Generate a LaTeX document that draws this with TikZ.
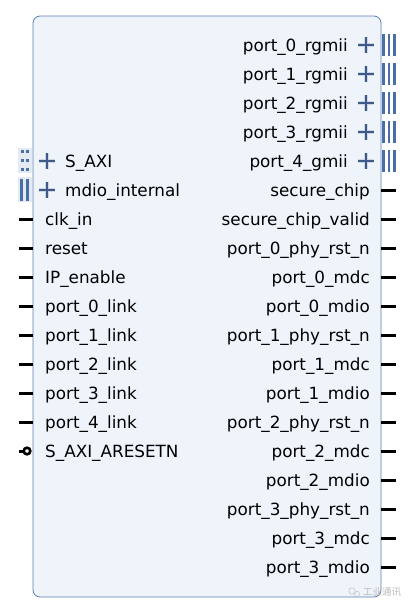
\documentclass[tikz,border=0pt]{standalone}
\usepackage{fontspec}
\setmainfont{DejaVu Sans}
\newfontfamily\cjk{Noto Sans CJK SC}
\usetikzlibrary{calc}

\definecolor{ipfill}{HTML}{EFF4FB}
\definecolor{ipedge}{HTML}{5A7DB5}
\definecolor{busblue}{HTML}{4A6FA5}
\definecolor{plusblue}{HTML}{3D5A8A}
\definecolor{busback}{HTML}{E3EAF4}

\tikzset{
  pinline/.style={line width=3pt, black},
  busbar/.style={busblue, line width=2.6pt},
  portlbl/.style={font=\fontsize{16.8}{18}\selectfont, inner sep=0pt},
  plusmark/.style={plusblue, line width=2.6pt},
  plushalo/.style={plusblue!25, line width=4.6pt}
}

\newcommand{\plusicon}[1]{%
  \draw[plushalo] ($(#1)+(-8,0)$) -- ($(#1)+(8,0)$);
  \draw[plushalo] ($(#1)+(0,-8)$) -- ($(#1)+(0,8)$);
  \draw[plusmark] ($(#1)+(-8,0)$) -- ($(#1)+(8,0)$);
  \draw[plusmark] ($(#1)+(0,-8)$) -- ($(#1)+(0,8)$);
}

\begin{document}
\begin{tikzpicture}[x=1pt,y=-1pt]
\useasboundingbox (0,0) rectangle (411,613);

% bloco IP
\draw[ipedge, fill=ipfill, rounded corners=7pt, line width=0.8pt] (33,16) rectangle (381,597);

% interfaces do lado esquerdo
\fill[busback] (18,148) rectangle (32,173);
\foreach \xx in {22,27.5}
  \foreach \yy in {151,160,169}
    \fill[busblue] (\xx-1.5,\yy-1.5) rectangle (\xx+1.5,\yy+1.5);
\node[portlbl, anchor=base west] (saxi) at (65,167) {S\_AXI};
\coordinate (saxiplus) at (47,161);
\plusicon{saxiplus}

\fill[busback] (18,177) rectangle (32,202);
\foreach \xx in {21.5,27.5}
  \draw[busbar] (\xx,179) -- (\xx,201);
\node[portlbl, anchor=base west] (mdio) at (65,196) {mdio\_internal};
\coordinate (mdioplus) at (47,190);
\plusicon{mdioplus}

% pinos simples do lado esquerdo
\foreach \lbl [count=\i from 0] in {clk\_in,reset,IP\_enable,port\_0\_link,port\_1\_link,port\_2\_link,port\_3\_link,port\_4\_link}
{
  \coordinate (lp\i) at (33,219+29*\i);
  \node[portlbl, anchor=base west] (ll\i) at (45,225+29*\i) {\lbl};
  \draw[pinline] (lp\i) -- ++(-14,0);
}

% reset ativo em baixo
\coordinate (arst) at (33,451);
\node[portlbl, anchor=base west] (arstlbl) at (45,457) {S\_AXI\_ARESETN};
\draw[pinline] (arst) ++(-10,0) -- ++(-4,0);
\draw[black, line width=2.6pt] ($(arst)+(-6,0)$) circle (3.3);

% barramentos do lado direito
\foreach \lbl [count=\i from 0] in {port\_0\_rgmii,port\_1\_rgmii,port\_2\_rgmii,port\_3\_rgmii,port\_4\_gmii}
{
  \coordinate (rb\i) at (381,45+29*\i);
  \node[portlbl, anchor=base east] (rbl\i) at (348,51+29*\i) {\lbl};
  \coordinate (rbp\i) at (366,45+29*\i);
  \plusicon{rbp\i}
  \foreach \dx in {2.5,8,13.5}
    \draw[busbar] ($(rb\i)+(\dx,-11)$) -- ($(rb\i)+(\dx,11)$);
}

% pinos simples do lado direito
\foreach \lbl [count=\i from 0] in {secure\_chip,secure\_chip\_valid,port\_0\_phy\_rst\_n,port\_0\_mdc,port\_0\_mdio,port\_1\_phy\_rst\_n,port\_1\_mdc,port\_1\_mdio,port\_2\_phy\_rst\_n,port\_2\_mdc,port\_2\_mdio,port\_3\_phy\_rst\_n,port\_3\_mdc,port\_3\_mdio}
{
  \coordinate (rp\i) at (381,190+29*\i);
  \node[portlbl, anchor=base east] (rl\i) at (370,196+29*\i) {\lbl};
  \draw[pinline] (rp\i) -- ++(15,0);
}

% marca d'agua
\draw[gray!45, line width=0.6pt] (352,591) circle (3.2);
\draw[gray!45, line width=0.6pt] (357,594) circle (2.6);
\node[gray!55, font=\cjk\fontsize{9.5}{10}\selectfont, anchor=west, inner sep=0pt] (wm) at (363,592) {工业通讯};

\end{tikzpicture}
\end{document}
